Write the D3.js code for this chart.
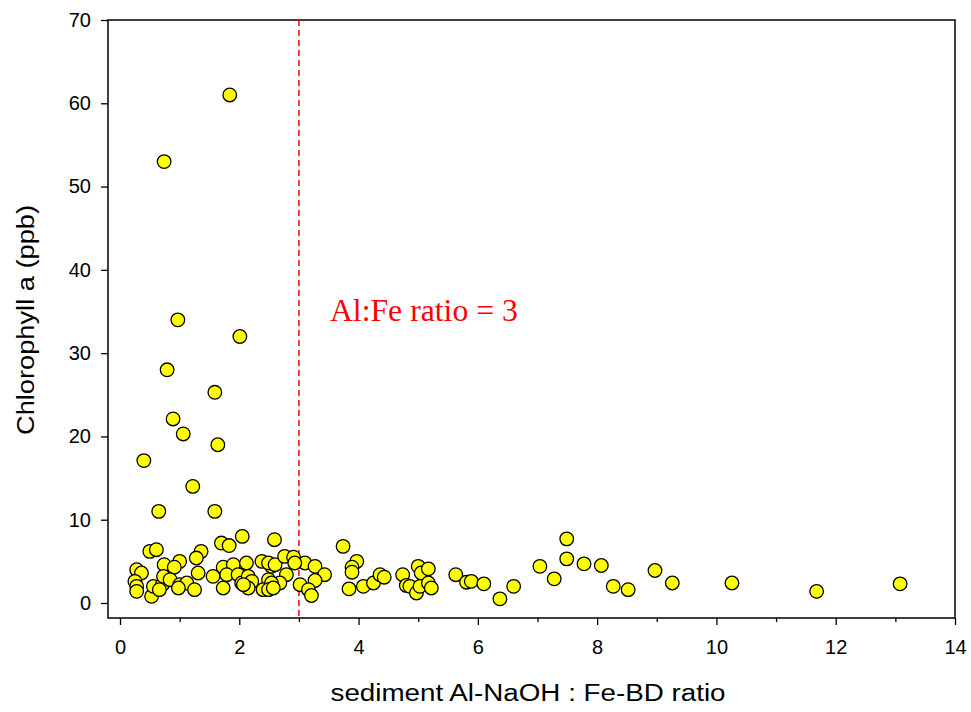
<!DOCTYPE html>
<html>
<head>
<meta charset="utf-8">
<script src="https://cdn.jsdelivr.net/npm/d3@7"></script>
<style>
  body { margin: 0; background: #fff; }
  svg { display: block; }
</style>
</head>
<body>
<svg id="chart" width="971" height="712"></svg>
<script>
// ratio values (x) — sediment Al-NaOH : Fe-BD ratio
const ratio = [
  1.84, 0.74, 0.97, 2.01, 0.79, 1.59, 0.89, 1.06, 1.64, 0.40, 1.22, 0.65, 1.59, 2.05, 2.59, 3.74, 7.49,
  0.50, 0.61, 1.36, 1.28, 0.28, 0.36, 0.74, 1.00, 0.91, 1.31, 0.25, 0.28, 0.28, 0.53, 0.56, 0.71, 0.73,
  0.84, 1.00, 1.12, 0.98, 1.25, 1.56, 0.66,
  1.70, 1.83, 1.73, 1.90, 1.73, 1.79, 1.98,
  2.04, 2.12, 2.15, 2.21, 2.15, 2.07, 2.38, 2.49, 2.54, 2.40, 2.49, 2.60, 2.76, 2.91, 2.79, 2.68, 2.54,
  2.49, 2.57, 3.02, 3.10, 3.27, 3.43, 3.27, 3.16, 3.21, 2.93,
  3.97, 3.89, 3.89, 3.84, 4.08, 4.25, 4.36, 4.43, 4.74, 4.80, 4.86, 5.00, 5.05, 5.17, 4.97, 5.03, 5.17, 5.22,
  5.63, 5.81, 5.89, 6.10, 6.37, 6.60, 7.04, 7.28, 7.49, 7.78, 8.07, 8.27, 8.52, 8.97, 9.26, 10.26, 11.68, 13.08
];
// chlorophyll a (ppb) (y)
const chla = [
  61.0, 53.0, 34.0, 32.0, 28.0, 25.3, 22.1, 20.3, 19.0, 17.1, 14.0, 11.0, 11.0, 8.0, 7.6, 6.8, 7.7,
  6.2, 6.4, 6.2, 5.4, 4.0, 3.6, 4.6, 5.0, 4.3, 3.6, 2.6, 2.0, 1.4, 0.8, 2.0, 2.2, 3.2,
  2.8, 2.2, 2.4, 1.8, 1.6, 3.2, 1.6,
  7.2, 6.9, 4.3, 4.6, 1.8, 3.4, 3.4,
  2.4, 4.8, 3.2, 2.6, 1.8, 2.2, 5.0, 2.8, 4.4, 1.6, 4.8, 4.6, 5.6, 5.5, 3.4, 2.4, 2.4,
  1.6, 1.8, 2.2, 4.8, 4.4, 3.4, 2.7, 1.6, 0.9, 4.8,
  5.0, 4.3, 3.7, 1.7, 2.0, 2.4, 3.4, 3.1, 3.4, 2.1, 2.0, 4.4, 3.6, 4.1, 1.2, 2.0, 2.4, 1.8,
  3.4, 2.5, 2.6, 2.3, 0.5, 2.0, 4.4, 2.9, 5.3, 4.7, 4.5, 2.0, 1.6, 3.9, 2.4, 2.4, 1.4, 2.3
];
const xTicks = [0, 2, 4, 6, 8, 10, 12, 14];
const xMinorTicks = [1, 3, 5, 7, 9, 11, 13];
const yTicks = [0, 10, 20, 30, 40, 50, 60, 70];
const thresholdRatio = 3;
const thresholdLabel = "Al:Fe ratio = 3";
const xTitle = "sediment Al-NaOH : Fe-BD ratio";
const yTitle = "Chlorophyll a (ppb)";

const svg = d3.select("#chart");
const frame = { left: 108, right: 955, top: 20, bottom: 618 };

const x = d3.scaleLinear().domain([0, 14]).range([120, 955]);
const y = d3.scaleLinear().domain([0, 70]).range([603, 20]);

const fontSans = "'Liberation Sans', Arial, sans-serif";

// frame
svg.append("rect")
  .attr("x", frame.left).attr("y", frame.top)
  .attr("width", frame.right - frame.left).attr("height", frame.bottom - frame.top)
  .attr("fill", "none").attr("stroke", "#000").attr("stroke-width", 1.5);

// x axis
const xAxis = svg.append("g").attr("transform", `translate(0,${frame.bottom})`)
  .call(d3.axisBottom(x).tickValues(xTicks).tickSize(7).tickPadding(15).tickFormat(d3.format("d")));
xAxis.select(".domain").remove();
xAxis.selectAll("line").attr("stroke-width", 1.3);
xAxis.selectAll("text").attr("font-family", fontSans).attr("font-size", 20).attr("fill", "#000");

const xMinor = svg.append("g").attr("transform", `translate(0,${frame.bottom})`)
  .call(d3.axisBottom(x).tickValues(xMinorTicks).tickSize(4).tickFormat(""));
xMinor.select(".domain").remove();
xMinor.selectAll("line").attr("stroke-width", 1.3);

// y axis
const yAxis = svg.append("g").attr("transform", `translate(${frame.left},0)`)
  .call(d3.axisLeft(y).tickValues(yTicks).tickSize(7).tickPadding(10).tickFormat(d3.format("d")));
yAxis.select(".domain").remove();
yAxis.selectAll("line").attr("stroke-width", 1.3);
yAxis.selectAll("text").attr("font-family", fontSans).attr("font-size", 20).attr("fill", "#000");

// threshold line
svg.append("line")
  .attr("x1", x(thresholdRatio)).attr("x2", x(thresholdRatio))
  .attr("y1", frame.top).attr("y2", frame.bottom)
  .attr("stroke", "#ff0000").attr("stroke-width", 1.5)
  .attr("stroke-dasharray", "6,4");

svg.append("text")
  .attr("x", x(thresholdRatio) + 31).attr("y", 321)
  .attr("font-family", "'Liberation Serif', 'DejaVu Serif', serif")
  .attr("font-size", 31).attr("fill", "#ff0000")
  .attr("textLength", 188).attr("lengthAdjust", "spacingAndGlyphs")
  .text(thresholdLabel);

// points
const pts = ratio.map((r, i) => ({ r, c: chla[i] }));
svg.append("g").selectAll("circle").data(pts).join("circle")
  .attr("cx", d => x(d.r)).attr("cy", d => y(d.c)).attr("r", 6.8)
  .attr("fill", "#ffff00").attr("stroke", "#000").attr("stroke-width", 1.3);

// titles
svg.append("text")
  .attr("x", 528).attr("y", 701)
  .attr("text-anchor", "middle")
  .attr("font-family", fontSans).attr("font-size", 23.5).attr("fill", "#000")
  .attr("textLength", 395).attr("lengthAdjust", "spacingAndGlyphs")
  .text(xTitle);

svg.append("text")
  .attr("transform", "translate(34,320) rotate(-90)")
  .attr("text-anchor", "middle")
  .attr("font-family", fontSans).attr("font-size", 23.5).attr("fill", "#000")
  .attr("textLength", 230).attr("lengthAdjust", "spacingAndGlyphs")
  .text(yTitle);
</script>
</body>
</html>
